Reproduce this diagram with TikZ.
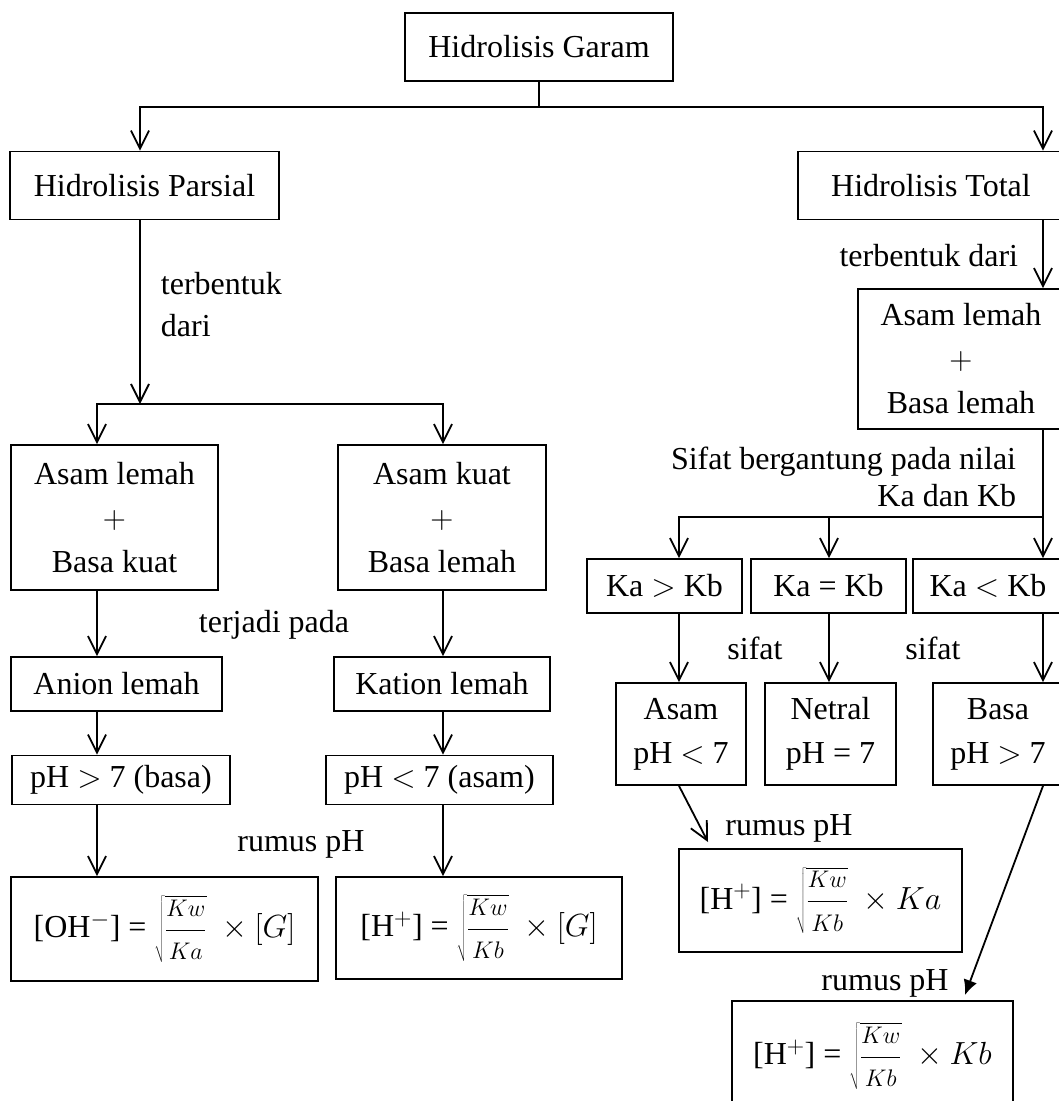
\documentclass[tikz,border=0pt]{standalone}
\usepackage{fix-cm}
\usepackage{fontspec}
\setmainfont{Liberation Serif}
\DeclareMathSizes{32}{32}{24}{18}
\usetikzlibrary{arrows.meta}
\newcommand{\pecahan}[2]{\sqrt{\displaystyle\frac{\scriptstyle #1}{\scriptstyle #2}}}
\begin{document}
\begin{tikzpicture}[x=1pt, y=-1pt, line width=1.8pt,
    font=\fontsize{32}{42}\selectfont,
    >={Straight Barb[length=18pt,width=18pt]},
    kotak/.style={draw, inner sep=0pt, align=center},
    teks/.style={inner sep=0pt, align=center}]
\useasboundingbox (0,0) rectangle (1059,1101);
\clip (0,0) rectangle (1059,1101);

\node[kotak, minimum width=268pt, minimum height=68pt] (garam) at (539,47) {Hidrolisis Garam};
\node[kotak, minimum width=269pt, minimum height=68pt] (parsial) at (144.5,185.5) {Hidrolisis Parsial};
\node[kotak, minimum width=266pt, minimum height=68pt] (total) at (931,185.5) {Hidrolisis Total};

\node[kotak, minimum width=207pt, minimum height=145pt] (alsbk) at (114.5,517.5) {Asam lemah\\[2pt]$+$\\[2pt]Basa kuat};
\node[kotak, minimum width=208pt, minimum height=145pt] (aksbl) at (442,517.5) {Asam kuat\\[2pt]$+$\\[2pt]Basa lemah};
\node[kotak, minimum width=211pt, minimum height=54pt] (anion) at (116.5,684) {Anion lemah};
\node[kotak, minimum width=216pt, minimum height=54pt] (kation) at (442,684) {Kation lemah};
\node[kotak, minimum width=218pt, minimum height=49pt] (phb) at (121,780) {pH $>$ 7 (basa)};
\node[kotak, minimum width=227pt, minimum height=49pt] (pha) at (439.5,780) {pH $<$ 7 (asam)};
\node[kotak, minimum width=307pt, minimum height=104pt] (fohg) at (164.5,929) {[OH$^{-}$] = $\pecahan{Kw}{Ka}\;\times[G]$};
\node[kotak, minimum width=286pt, minimum height=102pt] (fhg) at (479,928) {[H$^{+}$] = $\pecahan{Kw}{Kb}\;\times[G]$};

\node[kotak, minimum width=206pt, minimum height=140pt] (alsbl) at (961,359) {Asam lemah\\[2pt]$+$\\[2pt]Basa lemah};
\node[kotak, minimum width=155pt, minimum height=54pt] (kagt) at (664.5,586) {Ka $>$ Kb};
\node[kotak, minimum width=155pt, minimum height=54pt] (kaeq) at (828.5,586) {Ka = Kb};
\node[kotak, minimum width=150pt, minimum height=54pt] (kalt) at (988,586) {Ka $<$ Kb};
\node[kotak, minimum width=130pt, minimum height=102pt] (asam) at (681,734) {Asam\\[2pt]pH $<$ 7};
\node[kotak, minimum width=131pt, minimum height=102pt] (netral) at (830.5,734) {Netral\\[2pt]pH = 7};
\node[kotak, minimum width=130pt, minimum height=102pt] (basa) at (998,734) {Basa\\[2pt]pH $>$ 7};
\node[kotak, minimum width=283pt, minimum height=103pt] (fhka) at (820.5,900.5) {[H$^{+}$] = $\pecahan{Kw}{Kb}\;\times Ka$};
\node[kotak, minimum width=281pt, minimum height=110pt] (fhkb) at (872.5,1056) {[H$^{+}$] = $\pecahan{Kw}{Kb}\;\times Kb$};

\node[teks, anchor=west, align=left] (lterbentukL) at (160,305) {terbentuk\\dari};
\node[teks, anchor=east] (lterbentukR) at (1019,256) {terbentuk dari};
\node[teks] (lterjadi) at (274,625) {terjadi pada};
\node[teks] (lrumusL) at (301,844) {rumus pH};
\node[teks, anchor=east, align=right] (lsifatKa) at (1017,477) {Sifat bergantung pada nilai\\[-5pt]Ka dan Kb};
\node[teks] (lsifatA) at (755,648) {sifat};
\node[teks] (lsifatB) at (933,648) {sifat};
\node[teks] (lrumusA) at (789,828) {rumus pH};
\node[teks] (lrumusB) at (885,983) {rumus pH};

\coordinate (kolA) at (140,0);
\coordinate (kolB) at (97,0);
\coordinate (kolC) at (443,0);
\coordinate (kolK1) at (679,0);
\coordinate (kolK2) at (829,0);
\coordinate (kolR) at (1043,0);
\coordinate (hub0) at (539,107);
\coordinate (hubL) at (140,404);
\coordinate (hubR) at (1043,517);
\coordinate (ujungA) at (708,842);
\coordinate (ujungB) at (965,995);

\draw (garam) -- (hub0);
\draw[->] (hub0) -| (parsial.north -| kolA);
\draw[->] (hub0) -| (total.north -| kolR);
\draw[->] (parsial.south -| kolA) -- (hubL);
\draw[->] (hubL) -| (alsbk.north -| kolB);
\draw[->] (hubL) -| (aksbl.north -| kolC);
\draw[->] (alsbk.south -| kolB) -- (anion.north -| kolB);
\draw[->] (aksbl.south -| kolC) -- (kation.north -| kolC);
\draw[->] (anion.south -| kolB) -- (phb.north -| kolB);
\draw[->] (kation.south -| kolC) -- (pha.north -| kolC);
\draw[->] (phb.south -| kolB) -- (fohg.north -| kolB);
\draw[->] (pha.south -| kolC) -- (fhg.north -| kolC);

\draw[->] (total.south -| kolR) -- (alsbl.north -| kolR);
\draw[->] (alsbl.south -| kolR) -- (kalt.north -| kolR);
\draw[->] (hubR) -| (kagt.north -| kolK1);
\draw[->] (hubR) -| (kaeq.north -| kolK2);
\draw[->] (kagt.south -| kolK1) -- (asam.north -| kolK1);
\draw[->] (kaeq.south -| kolK2) -- (netral.north -| kolK2);
\draw[->] (kalt.south -| kolR) -- (basa.north -| kolR);
\draw[->] (asam.south -| kolK1) -- (ujungA);
\draw[-{Latex[length=15pt,width=14pt]}] (basa.south -| kolR) -- (ujungB);
\end{tikzpicture}
\end{document}
